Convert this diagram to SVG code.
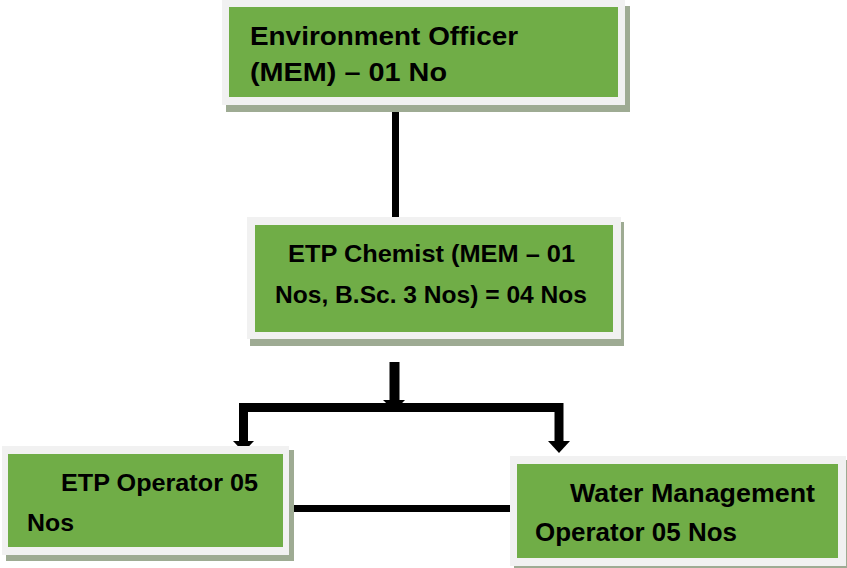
<svg xmlns="http://www.w3.org/2000/svg" width="847" height="568" viewBox="0 0 847 568">
<style>
.shadow{fill:#9eab93}
.frame{fill:#f1f1f1}
.box{fill:#70ad47}
.t{font-family:"Liberation Sans",Arial,sans-serif;font-weight:bold;fill:#000}
.ln{stroke:#000;fill:none}
.ah{fill:#000}
</style>
<rect width="847" height="568" fill="#fff"/>
<g id="connectors">
<line class="ln" x1="395.5" y1="104" x2="395.5" y2="218" stroke-width="7"/>
<line class="ln" x1="394.5" y1="362" x2="394.5" y2="402" stroke-width="10"/>
<polygon class="ah" points="383,400 405,400 394.5,411"/>
<line class="ln" x1="239" y1="407.5" x2="563" y2="407.5" stroke-width="9"/>
<line class="ln" x1="243.5" y1="403" x2="243.5" y2="443" stroke-width="9"/>
<polygon class="ah" points="233,441 254,441 243.5,452"/>
<line class="ln" x1="559" y1="403" x2="559" y2="443" stroke-width="9"/>
<polygon class="ah" points="548,441 570,441 559,453"/>
<line class="ln" x1="288" y1="508.5" x2="512" y2="508.5" stroke-width="7"/>
</g>
<g id="environment-officer">
<rect class="shadow" x="226" y="6" width="404" height="106"/>
<rect class="frame" x="222" y="0" width="403" height="105"/>
<rect class="box" x="229" y="7" width="389" height="90"/>
<text class="t" x="250" y="45" font-size="26" textLength="268" lengthAdjust="spacingAndGlyphs">Environment Officer</text>
<text class="t" x="250" y="81" font-size="26" textLength="197" lengthAdjust="spacingAndGlyphs">(MEM) – 01 No</text>
</g>
<g id="etp-chemist">
<rect class="shadow" x="250" y="222" width="374" height="124"/>
<rect class="frame" x="247" y="217" width="374" height="122"/>
<rect class="box" x="255" y="225" width="358" height="107"/>
<text class="t" x="288" y="262" font-size="24" textLength="287" lengthAdjust="spacingAndGlyphs">ETP Chemist (MEM – 01</text>
<text class="t" x="275" y="303" font-size="24" textLength="312" lengthAdjust="spacingAndGlyphs">Nos, B.Sc. 3 Nos) = 04 Nos</text>
</g>
<g id="etp-operator">
<rect class="shadow" x="6" y="450" width="288" height="111"/>
<rect class="frame" x="2" y="446" width="287" height="109"/>
<rect class="box" x="8" y="454" width="275" height="93"/>
<text class="t" x="61" y="491" font-size="24" textLength="197" lengthAdjust="spacingAndGlyphs">ETP Operator 05</text>
<text class="t" x="27" y="531" font-size="24" textLength="47" lengthAdjust="spacingAndGlyphs">Nos</text>
</g>
<g id="water-management-operator">
<rect class="shadow" x="514" y="460" width="337" height="112"/>
<rect class="frame" x="510" y="456" width="336" height="110"/>
<rect class="box" x="517" y="464" width="321" height="94"/>
<text class="t" x="570" y="502" font-size="25" textLength="245" lengthAdjust="spacingAndGlyphs">Water Management</text>
<text class="t" x="535" y="541" font-size="25" textLength="202" lengthAdjust="spacingAndGlyphs">Operator 05 Nos</text>
</g>
</svg>
